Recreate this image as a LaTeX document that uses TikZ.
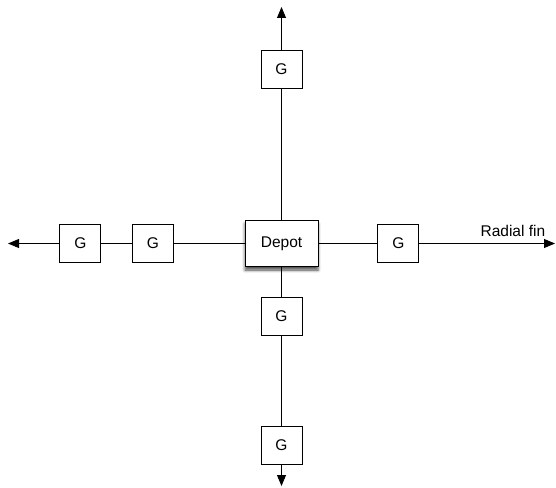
\documentclass[tikz,border=0pt]{standalone}
\usepackage{fontspec}
\setmainfont{Liberation Sans}
\usetikzlibrary{arrows.meta, shadows.blur}

\begin{document}
\begin{tikzpicture}[x=1pt, y=-1pt, >={Triangle[length=11pt, width=9pt]}, line width=0.9pt,
  every node/.style={font=\fontsize{15.5}{18}\selectfont},
  gbox/.style={draw, fill=white, minimum width=41pt, minimum height=38pt, inner sep=0pt},
  depotbox/.style={draw, fill=white, minimum width=73pt, minimum height=46pt, inner sep=0pt,
    blur shadow={shadow xshift=0pt, shadow yshift=-3.5pt, shadow blur radius=3pt, shadow opacity=70}}]
  \useasboundingbox (0,0) rectangle (556,487);
  % arm ends
  \coordinate (nEnd) at (281.5,7);
  \coordinate (sEnd) at (281.5,486);
  \coordinate (wEnd) at (8,243.5);
  \coordinate (eEnd) at (555,243.5);
  % lines first, boxes on top
  \draw (281.5,243.5) -- (281.5,69);
  \draw (281.5,243.5) -- (281.5,445);
  \draw (281.5,243.5) -- (80.3,243.5);
  \draw (281.5,243.5) -- (398.3,243.5);
  \node[depotbox] (depot) at (281.5,243.5) {Depot};
  \node[gbox] (gN) at (281.5,69) {G};
  \node[gbox] (gS1) at (281.5,316.5) {G};
  \node[gbox] (gS2) at (281.5,445) {G};
  \node[gbox] (gW1) at (80.3,243.5) {G};
  \node[gbox] (gW2) at (152.8,243.5) {G};
  \node[gbox] (gE) at (398.3,243.5) {G};
  \draw[->] (gN) -- (nEnd);
  \draw[->] (gS2) -- (sEnd);
  \draw[->] (gW1) -- (wEnd);
  \draw[->] (gE) -- (eEnd) node[pos=0.69, above=4pt, inner sep=2pt] (finLabel) {Radial fin};
\end{tikzpicture}
\end{document}
